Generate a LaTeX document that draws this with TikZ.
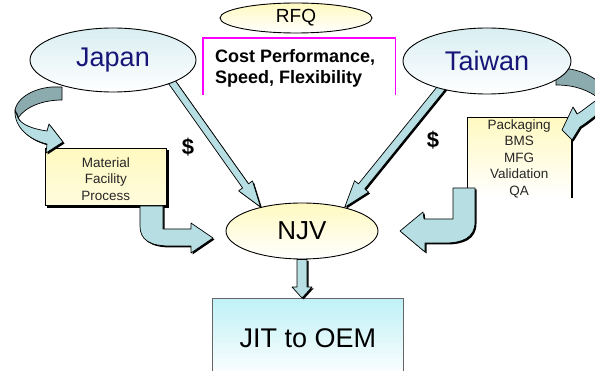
\documentclass[tikz,border=0pt]{standalone}
\usepackage{fontspec}
\setmainfont{Liberation Sans}
\usetikzlibrary{calc,shapes.geometric}
\pgfdeclarelayer{behind}
\pgfsetlayers{behind,main}

\definecolor{skyfill}{HTML}{D9EEF2}
\definecolor{lemon}{HTML}{FFF9C0}
\definecolor{ribbon}{HTML}{B7DFE3}
\definecolor{ribbondark}{HTML}{8CABAF}
\definecolor{navy}{HTML}{161678}
\definecolor{jitcyan}{HTML}{BFF1F6}
\definecolor{framepink}{HTML}{FF00FF}

\tikzset{
  country/.style={ellipse, draw=black, line width=0.9pt, top color=skyfill, bottom color=white,
    inner sep=0pt, text=navy, font=\fontsize{27}{30}\selectfont},
  hub/.style={ellipse, draw=black, line width=0.9pt, top color=lemon, bottom color=white, inner sep=0pt},
  notebox/.style={rectangle, inner sep=0pt, anchor=north west},
  listtext/.style={align=center, font=\fontsize{13.5}{16.6}\selectfont, text=black!85},
  arrowshadow/.style={fill=black, transform canvas={shift={(1.5pt,-1.5pt)}}},
  arrowbody/.style={fill=ribbon, draw=black, line width=0.7pt, line join=round},
  arrowback/.style={fill=ribbondark, draw=black, line width=0.7pt, line join=round},
  money/.style={font=\bfseries\fontsize{22}{24}\selectfont},
}

% straight block arrow: start, tip, shaft half width, head half width, head length
\newcommand\blockarrow[5]{%
  \coordinate (ba-b) at ($(#2)!#5!(#1)$);
  \fill[arrowshadow]
    ($(#1)!#3!90:(#2)$) -- ($(ba-b)!#3!90:(#2)$) -- ($(ba-b)!#4!90:(#2)$) -- (#2)
    -- ($(ba-b)!#4!-90:(#2)$) -- ($(ba-b)!#3!-90:(#2)$) -- ($(#1)!#3!-90:(#2)$) -- cycle;
  \filldraw[arrowbody]
    ($(#1)!#3!90:(#2)$) -- ($(ba-b)!#3!90:(#2)$) -- ($(ba-b)!#4!90:(#2)$) -- (#2)
    -- ($(ba-b)!#4!-90:(#2)$) -- ($(ba-b)!#3!-90:(#2)$) -- ($(#1)!#3!-90:(#2)$) -- cycle;
}

\begin{document}
\begin{tikzpicture}[x=1pt,y=-1pt]
\useasboundingbox (0,0) rectangle (595,371);

% ---- main nodes ----
\node[country, minimum width=166pt, minimum height=64pt] (japan) at (113,60) {Japan};
\node[country, minimum width=168pt, minimum height=66pt] (taiwan) at (487,61) {Taiwan};
\node[hub, minimum width=152pt, minimum height=30pt, font=\fontsize{19}{22}\selectfont] (rfq) at (296,18) {RFQ};
\node[hub, minimum width=152pt, minimum height=56pt, font=\fontsize{26}{30}\selectfont] (njv) at (302,231) {NJV};

% ---- RFQ criteria, framed on three sides ----
\node[notebox, minimum width=192pt, minimum height=57pt] (criteria) at (203,38) {};
\draw[framepink, line width=1.3pt] (criteria.south west) -- (criteria.north west)
  -- (criteria.north east) -- (criteria.south east);
\node[anchor=north west, inner sep=0pt, align=left, font=\bfseries\fontsize{18}{20.5}\selectfont]
  (criteriatext) at (215,49.5) {Cost Performance,\\Speed, Flexibility};

% ---- Japan side box ----
\node[notebox, minimum width=121pt, minimum height=57pt, draw=black, line width=0.6pt,
  top color=lemon, bottom color=white!45!lemon] (material) at (45,148) {};
\fill[black] ($(material.north east)+(0,2)$) rectangle ($(material.south east)+(2,2)$);
\fill[black] ($(material.south west)+(2,0)$) rectangle ($(material.south east)+(2,2)$);
\node[listtext] (materialtext) at ($(material.center)+(0,2)$) {Material\\Facility\\Process};

% ---- Taiwan side box ----
\node[notebox, minimum width=104pt, minimum height=81pt, top color=lemon, bottom color=white] (duties) at (467,117) {};
\draw[line width=0.6pt] (duties.south west) -- (duties.north west) -- (duties.north east) -- (duties.south east);
\fill[black] ($(duties.north east)+(0,2)$) rectangle ($(duties.south east)+(2,0)$);
\node[listtext] (dutiestext) at ($(duties.center)+(0,1)$) {Packaging\\BMS\\MFG\\Validation\\QA};

% ---- output box ----
\node[notebox, minimum width=191pt, minimum height=80pt, draw=black!60, line width=0.6pt,
  top color=jitcyan, bottom color=white, font=\fontsize{27}{30}\selectfont] (jit) at (212,298) {JIT to OEM};

% ---- money flows (behind the ellipses) ----
\coordinate (jp-out) at ($(japan.-21)!-8pt!(njv.150)$);
\coordinate (tw-out) at ($(taiwan.211)!-8pt!(njv.29)$);
\begin{pgfonlayer}{behind}
  \fill[white] (0,0) rectangle (595,371);
  \blockarrow{jp-out}{njv.150}{3.6pt}{8.5pt}{26pt}
  \blockarrow{tw-out}{njv.29}{4pt}{9pt}{27pt}
  % upper, darker halves of the curved ribbons
  \filldraw[arrowback] (58,87) .. controls (40,86) and (18,95) .. (15,110) -- (18,118)
    .. controls (26,106) and (44,100) .. (62,100) -- (62,87) -- cycle;
  \filldraw[arrowback] (556,68) .. controls (575,68) and (588,73) .. (600,83) -- (600,99)
    .. controls (588,90) and (575,85) .. (556,85) -- cycle;
\end{pgfonlayer}
\node[money] (cash-jp) at (188,147) {\$};
\node[money] (cash-tw) at (433,140) {\$};

% ---- curved ribbons, lower halves with heads ----
\fill[arrowshadow] (15,110) .. controls (14,128) and (30,140) .. (47,144) -- (46,153) -- (63,142)
  -- (49,124) -- (47,131) .. controls (33,129) and (22,125) .. (18,118) -- cycle;
\filldraw[arrowbody] (15,110) .. controls (14,128) and (30,140) .. (47,144) -- (46,153) -- (63,142)
  -- (49,124) -- (47,131) .. controls (33,129) and (22,125) .. (18,118) -- cycle;
\fill[arrowshadow] (600,98) .. controls (590,104) and (584,110) .. (577,114) -- (573,107) -- (562,130)
  -- (572,140) -- (580,127) .. controls (588,122) and (595,116) .. (600,112) -- cycle;
\filldraw[arrowbody] (600,98) .. controls (590,104) and (584,110) .. (577,114) -- (573,107) -- (562,130)
  -- (572,140) -- (580,127) .. controls (588,122) and (595,116) .. (600,112) -- cycle;

% ---- bent arrows from the side boxes into NJV ----
\fill[arrowshadow] (140,206) -- (140,226) .. controls (140,240) and (150,246) .. (170,246) -- (191,246)
  -- (191,253) -- (213,238) -- (191,223) -- (191,229) -- (163,229) -- (163,206) -- cycle;
\filldraw[arrowbody] (140,206) -- (140,226) .. controls (140,240) and (150,246) .. (170,246) -- (191,246)
  -- (191,253) -- (213,238) -- (191,223) -- (191,229) -- (163,229) -- (163,206) -- cycle;
\fill[arrowshadow] (453,188) -- (475,188) -- (475,222) .. controls (475,238) and (462,243) .. (445,243)
  -- (425,243) -- (425,252) -- (400,231) -- (423,212) -- (424,219) -- (453,219) -- cycle;
\filldraw[arrowbody] (453,188) -- (475,188) -- (475,222) .. controls (475,238) and (462,243) .. (445,243)
  -- (425,243) -- (425,252) -- (400,231) -- (423,212) -- (424,219) -- (453,219) -- cycle;

% ---- NJV delivers to the OEM ----
\coordinate (jit-in) at (njv.south |- jit.north);
\blockarrow{njv.south}{jit-in}{5pt}{10pt}{11pt}
\end{tikzpicture}
\end{document}
